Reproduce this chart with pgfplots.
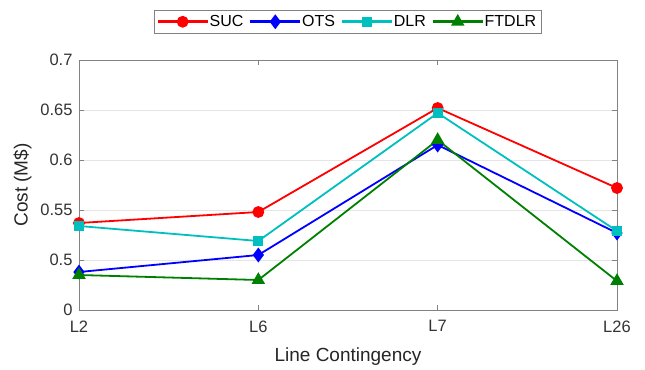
\documentclass[border=0pt]{standalone}
\usepackage{fontspec}
\setmainfont{Liberation Sans}
\usepackage{pgfplots}
\pgfplotsset{compat=1.18}
\definecolor{mcyan}{rgb}{0,0.75,0.75}
\definecolor{mgreen}{rgb}{0,0.5,0}
\definecolor{axgray}{RGB}{130,130,130}
\begin{document}
\begin{tikzpicture}
\begin{axis}[
  scale only axis,
  width=538pt, height=250pt,
  xmin=0, xmax=3, ymin=0.45, ymax=0.7,
  xtick={0,1,2,3}, xticklabels={L2,L6,L7,L26},
  ytick={0.45,0.5,0.55,0.6,0.65,0.7},
  yticklabels={0,0.5,0.55,0.6,0.65,0.7},
  /pgf/number format/assume math mode=true,
  tick label style={font=\fontsize{16.5}{18}\selectfont, text=black!80},
  xticklabel style={yshift=-7pt},
  yticklabel style={xshift=-3pt},
  label style={font=\fontsize{19}{22}\selectfont, text=black!85},
  xlabel={Line Contingency}, ylabel={Cost (M\$)},
  xlabel style={yshift=-9pt},
  ylabel style={yshift=2pt},
  axis line style={axgray, line width=0.8pt},
  tick style={axgray, line width=0.8pt},
  major tick length=5pt,
  tick align=inside,
  xtick pos=both, ytick pos=both,
  ymajorgrids, xmajorgrids=false,
  major grid style={gray!20, line width=0.6pt},
  legend columns=4,
  legend style={at={(0.5,1)}, anchor=south, yshift=26pt, draw=axgray, line width=0.8pt,
    font=\fontsize{16}{18}\selectfont, inner xsep=3pt, inner ysep=3.5pt,
    /tikz/every even column/.append style={column sep=5pt}},
  legend image code/.code={
    \fill (0pt,-0.8pt) rectangle (48pt,0.8pt);
    \path plot[mark repeat=2, mark phase=2] coordinates {(0pt,0pt) (24pt,0pt) (48pt,0pt)};
  },
]
\addplot[red, line width=1.8pt, mark=*, mark size=5pt] coordinates {(0,0.537) (1,0.548) (2,0.652) (3,0.572)};
\addlegendentry{SUC}
\addplot[blue, line width=1.8pt, mark=diamond*, mark size=6pt] coordinates {(0,0.488) (1,0.505) (2,0.615) (3,0.527)};
\addlegendentry{OTS}
\addplot[mcyan, line width=1.8pt, mark=square*, mark size=4pt] coordinates {(0,0.534) (1,0.519) (2,0.647) (3,0.529)};
\addlegendentry{DLR}
\addplot[mgreen, line width=1.8pt, mark=triangle*, mark size=6pt] coordinates {(0,0.485) (1,0.480) (2,0.620) (3,0.479)};
\addlegendentry{FTDLR}
\end{axis}
\path (current axis.south west) ++(-79pt,-56pt) coordinate (bl);
\path (current axis.north east) ++(28pt,60pt) coordinate (tr);
\useasboundingbox (bl) rectangle (tr);
\end{tikzpicture}
\end{document}
